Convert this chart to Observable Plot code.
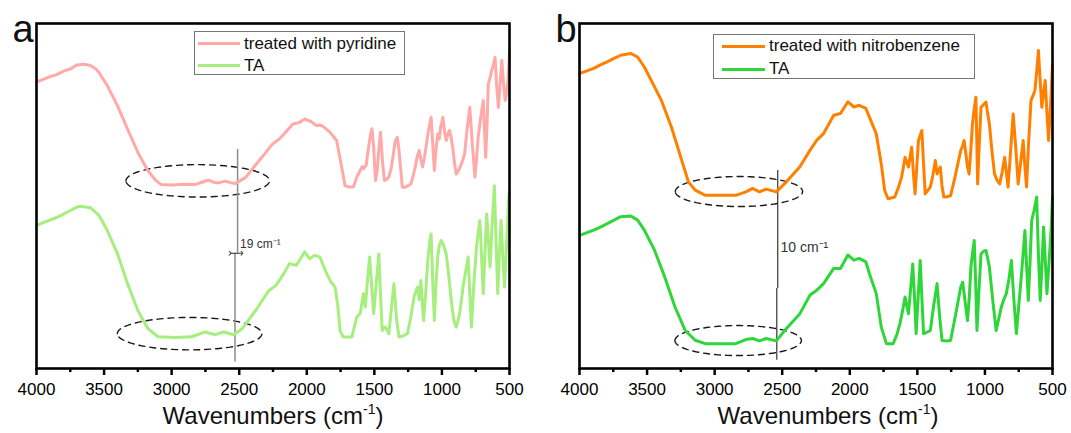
<!DOCTYPE html>
<html><head><meta charset="utf-8">
<script src="https://cdn.jsdelivr.net/npm/d3@7"></script>
<script src="https://cdn.jsdelivr.net/npm/@observablehq/plot@0.6"></script>
<style>
body{margin:0;background:#fff;font-family:"Liberation Sans",Arial,sans-serif;}
#wrap{position:relative;width:1071px;height:433px;background:#fff}
#wrap svg{position:absolute;left:0;top:0}
.legend{position:absolute;border:1px solid #777;background:#fff;font-size:17px;color:#111;box-sizing:border-box}
.row{position:absolute;left:0;height:20px;display:flex;align-items:center;white-space:nowrap}
.sw{height:3px}
.xtitle{position:absolute;font-size:24px;line-height:24px;white-space:nowrap;transform:translateX(-50%);color:#111}
.xtitle span{font-size:14px;position:relative;top:-10px}
</style></head>
<body><div id="wrap"></div>
<script>
// ---------- data (wavenumber cm^-1, transmittance a.u.) ----------
const pyridineTreated = [[4000,83.1],[3950,83.8],[3900,84.6],[3850,85.2],[3800,86.2],[3750,86.8],[3700,88.0],[3650,88.2],[3601,87.8],[3560,86.8],[3538,85.8],[3476,82.0],[3401,76.2],[3326,69.4],[3251,62.7],[3176,57.4],[3120,54.6],[3076,53.3],[3000,53.2],[2900,53.4],[2827,53.3],[2760,54.2],[2727,54.6],[2690,54.0],[2652,53.8],[2602,54.3],[2560,53.8],[2527,53.6],[2452,55.4],[2400,58.0],[2352,60.3],[2300,62.8],[2253,65.1],[2203,66.5],[2150,68.8],[2103,70.9],[2060,71.2],[2015,72.3],[1970,71.6],[1928,70.4],[1900,70.6],[1878,70.1],[1829,68.5],[1779,66.1],[1742,58.4],[1717,53.0],[1690,52.6],[1655,52.6],[1630,55.5],[1605,57.4],[1590,58.5],[1580,57.9],[1560,59.0],[1550,62.2],[1530,67.5],[1518,69.5],[1505,64],[1492,54.5],[1480,57],[1470,62],[1455,68.5],[1448,65],[1440,60],[1425,54.5],[1410,54.8],[1393,55.5],[1375,58],[1360,62],[1345,66],[1330,67.0],[1320,64],[1310,60],[1293,52.6],[1275,52.5],[1260,52.8],[1230,53.5],[1215,55.5],[1200,58],[1185,61],[1168,63.2],[1155,60.5],[1143,58.4],[1130,61],[1118,64.1],[1100,69],[1080,72.8],[1068,65],[1056,57.4],[1045,63],[1031,68.0],[1020,66.5],[1010,70],[1000,71.5],[993,72.8],[980,68.5],[968,66.1],[956,68],[944,69.0],[932,67],[920,64],[905,59],[894,56.4],[875,57.5],[856,59.3],[845,60.5],[832,62.2],[815,69],[794,75.7],[775,65],[756,55.5],[745,60],[732,67.0],[712,73],[694,77.7],[685,69],[676,61.2],[666,71],[657,82.5],[645,84],[632,86.4],[620,88],[607,90.2],[595,82],[582,75.7],[570,82],[557,89.3],[545,83],[532,77.7],[520,80],[507,85.5],[500,92]];
const taA = [[4000,41.5],[3940,42.4],[3875,43.4],[3820,44.3],[3775,45.3],[3700,46.8],[3675,47.0],[3601,46.6],[3538,44.4],[3476,40.0],[3401,33.3],[3326,24.6],[3251,16.9],[3176,11.6],[3101,9.2],[2976,9.0],[2852,9.2],[2752,10.6],[2677,9.8],[2615,10.6],[2540,9.8],[2477,11.6],[2377,16.9],[2278,22.7],[2228,24.1],[2170,27.5],[2128,30.4],[2078,29.9],[2015,33.8],[1978,31.8],[1941,32.8],[1903,32.3],[1853,27.5],[1820,25],[1791,23.6],[1770,18],[1754,11.0],[1730,9.1],[1667,9.1],[1630,14.9],[1605,15.9],[1590,19.5],[1580,21.7],[1567,17.8],[1550,26],[1535,32.3],[1520,24],[1505,15.9],[1485,25],[1467,33.2],[1455,22],[1442,11.0],[1430,11.8],[1418,12.0],[1393,10.1],[1375,17],[1355,24.6],[1335,14],[1317,9.1],[1285,9.5],[1255,10.1],[1230,15],[1205,21],[1181,23.6],[1168,20],[1156,25.5],[1136,13.9],[1120,22],[1105,31.3],[1090,37],[1080,39.0],[1068,25],[1056,13.9],[1045,24],[1031,32.3],[1020,35.5],[1006,37.1],[990,36],[968,33.2],[950,27],[931,19.7],[912,14],[894,12.0],[880,14],[869,15.9],[855,20],[844,23.6],[825,28],[806,32.3],[794,22],[782,12.0],[763,25],[744,35.2],[730,40],[719,42.9],[706,32],[694,21.7],[680,35],[669,44.8],[656,37],[644,29.4],[628,42],[612,53.0],[600,38],[587,21.7],[575,33],[562,42.9],[550,33],[537,23.6],[520,37],[507,48.7],[500,51.6]];
const nitrobenzeneTreated = [[4000,85.5],[3950,86.2],[3895,87.0],[3845,88.0],[3795,88.9],[3745,89.9],[3695,90.8],[3620,91.3],[3570,90.3],[3520,87.4],[3470,83.6],[3395,77.8],[3320,70.0],[3244,60.4],[3194,54.1],[3144,51.7],[3069,50.2],[2944,50.2],[2844,50.2],[2769,51.2],[2719,52.2],[2669,51.2],[2619,52.0],[2544,51.2],[2469,54.1],[2369,58.5],[2294,63.3],[2244,66.2],[2194,68.1],[2119,73.4],[2069,73.9],[2014,77.3],[1969,75.8],[1931,76.3],[1881,75.4],[1854,72.8],[1804,68.0],[1767,59.3],[1742,51.6],[1717,49.2],[1667,49.7],[1640,52.5],[1617,55.4],[1605,58],[1591,61.2],[1580,60],[1566,58.4],[1555,61],[1542,64.1],[1530,57],[1517,50.6],[1505,58],[1492,66.1],[1480,67.5],[1467,69.0],[1455,60],[1442,50.6],[1425,51.5],[1404,52.6],[1385,56],[1367,60.3],[1354,56.4],[1342,57.5],[1330,58.4],[1318,53],[1304,49.7],[1280,49.8],[1254,50.1],[1230,54],[1205,58.5],[1179,63.2],[1165,64.5],[1154,66.1],[1140,62],[1129,58.4],[1117,56.4],[1105,63],[1092,70.9],[1080,75],[1067,78.6],[1060,66],[1054,53.5],[1042,65],[1029,75.7],[1010,76.5],[992,77.2],[980,74],[967,70.9],[948,63],[929,56.4],[910,54.5],[891,53.5],[872,57],[854,61.2],[842,57],[829,52.6],[810,63],[791,73.8],[772,64],[754,53.5],[735,60],[717,66.1],[705,59],[692,52.6],[676,66],[659,77.7],[645,79],[630,80.6],[617,86],[604,92.2],[592,84],[579,75.7],[566,80],[554,83.5],[541,74],[529,66.1],[519,73],[509,80.6],[500,88]];
const taB = [[4000,38.6],[3950,39.3],[3895,40.1],[3845,41.0],[3795,42.0],[3745,43.0],[3695,44.0],[3620,44.2],[3570,43.0],[3520,40.1],[3445,34.3],[3370,26.6],[3294,17.9],[3219,11.1],[3144,8.2],[3069,7.2],[2944,7.2],[2844,7.2],[2769,8.4],[2719,8.7],[2669,8.0],[2619,8.7],[2544,8.0],[2469,11.6],[2369,15.9],[2294,21.3],[2244,22.7],[2194,24.6],[2119,29.0],[2069,29.0],[2014,32.9],[1969,31.4],[1931,31.9],[1881,30.9],[1854,27.4],[1804,21.7],[1767,12.0],[1729,7.2],[1679,7.2],[1650,10],[1629,13.0],[1604,17.8],[1591,20.7],[1566,15.9],[1550,23],[1534,30.3],[1520,20],[1509,10.1],[1495,20],[1479,31.3],[1466,20],[1454,10.1],[1430,10.5],[1404,11.0],[1380,18],[1354,24.6],[1335,15],[1317,8.1],[1285,8.0],[1254,8.1],[1215,16],[1179,23.6],[1165,25],[1154,21.7],[1129,13.9],[1115,21],[1104,29.4],[1090,34],[1079,37.1],[1068,24],[1059,11.0],[1045,22],[1029,33.2],[1010,34],[992,34.2],[980,32],[967,29.4],[940,19],[917,11.0],[900,14],[879,17.8],[860,20],[842,21.7],[822,26],[804,31.3],[786,20],[767,10.1],[748,19],[729,27.4],[716,34],[704,40.0],[692,30],[679,19.7],[665,32],[654,42.9],[635,46],[617,49.7],[605,34],[591,19.7],[578,30],[566,41.0],[553,31],[541,21.7],[525,31],[509,41.0],[500,49.6]];

const seriesNames = ["pyridine", "TA-a", "nitrobenzene", "TA-b"];
const seriesColors = ["#ffa9a9", "#a6ee7e", "#ff8000", "#2fd63a"];
const majorTicks = [4000,3500,3000,2500,2000,1500,1000,500];
const minorTicks = [3750,3250,2750,2250,1750,1250,750];

// annotation values
const ellipses = [{panel:"a", cx:2807, cy:54.4, rx:531, ry:4.7}, {panel:"a", cx:2867, cy:10.1, rx:535, ry:4.7},
                  {panel:"b", cx:2820, cy:51.3, rx:471, ry:4.35}, {panel:"b", cx:2826, cy:8.1, rx:468, ry:4.35}];
const shiftLinesA = [{panel:"a", x:2512, y1:63.5, y2:33.4}, {panel:"a", x:2531, y1:33.4, y2:1.9}];
const shiftLinesB = [{panel:"b", x:2533, y1:57.4, y2:23.2}, {panel:"b", x:2540, y1:23.2, y2:2.4}];
const arrowA = [{panel:"a", x1:2567, x2:2479, y:33.4}];
const shiftLabels = [{panel:"a", x:2494, y:35.9, t:"19 cm⁻¹", size:12}, {panel:"b", x:2513, y:35.1, t:"10 cm⁻¹", size:14}];
const panelLetters = [{panel:"a", t:"a"}, {panel:"b", t:"b"}];

const rows = [];
[[pyridineTreated,"a",0],[taA,"a",1],[nitrobenzeneTreated,"b",2],[taB,"b",3]].forEach(([arr,p,i])=>{
  arr.forEach(([w,t])=>rows.push({panel:p, series:seriesNames[i], w, t}));
});
const ellRows = [];
ellipses.forEach((e,i)=>{ for(let a=0;a<=360;a+=4){ const r=a*Math.PI/180; ellRows.push({panel:e.panel, id:i, x:e.cx+e.rx*Math.cos(r), y:e.cy+e.ry*Math.sin(r)}); } });

const chart = Plot.plot({
  width:1071, height:433, marginLeft:36, marginRight:18, marginTop:23, marginBottom:65,
  fx:{domain:["a","b"], paddingInner:0.1288, paddingOuter:0, axis:null, label:null},
  x:{domain:[4000,500]},
  y:{domain:[0,100], axis:null},
  color:{domain:seriesNames, range:seriesColors},
  style:{fontFamily:"Liberation Sans, Arial, sans-serif", fontSize:"17px", background:"white", overflow:"visible"},
  marks:[
    Plot.line(ellRows, {fx:"panel", x:"x", y:"y", z:"id", stroke:"#1a1a1a", strokeWidth:1.4, strokeDasharray:"6,5"}),
    Plot.ruleX(shiftLinesA, {fx:"panel", x:"x", y1:"y1", y2:"y2", stroke:"#8c8c8c", strokeWidth:1.5}),
    Plot.ruleX(shiftLinesB, {fx:"panel", x:"x", y1:"y1", y2:"y2", stroke:"#222", strokeWidth:1.1}),
    Plot.line(rows, {fx:"panel", x:"w", y:"t", z:"series", stroke:"series", strokeWidth:3, strokeLinejoin:"round"}),
    Plot.link(arrowA, {fx:"panel", x1:"x1", x2:"x2", y1:"y", y2:"y", stroke:"#333", strokeWidth:1, markerStart:"arrow", markerEnd:"arrow"}),
    Plot.text(shiftLabels, {fx:"panel", x:"x", y:"y", text:"t", fontSize:"size", textAnchor:"start", fill:"#333"}),
    Plot.frame({stroke:"black", strokeWidth:2.6}),
    Plot.axisX({ticks:majorTicks, tickSize:7, tickPadding:7, strokeWidth:2.5, label:null, tickFormat:d=>String(d)}),
    Plot.axisX({ticks:minorTicks, tickSize:4, strokeWidth:2.5, label:null, tickFormat:()=>""}),
    Plot.text(panelLetters, {fx:"panel", text:"t", frameAnchor:"top-left", dx:-24, dy:-8, lineAnchor:"top", textAnchor:"start", fontSize:38, fill:"#111"})
  ]
});
const wrap = document.getElementById("wrap");
wrap.appendChild(chart);

// legends
function legend(left, top, w, h, items){
  const d=document.createElement("div"); d.className="legend";
  Object.assign(d.style,{left:left+"px", top:top+"px", width:w+"px", height:h+"px"});
  items.forEach(r=>{
    const row=document.createElement("div"); row.className="row"; row.style.top=(r.y-10)+"px";
    const sw=document.createElement("div"); sw.className="sw";
    Object.assign(sw.style,{background:r.color, width:r.sw+"px", marginLeft:r.off+"px", marginRight:r.gap+"px"});
    const t=document.createElement("span"); t.textContent=r.text;
    row.appendChild(sw); row.appendChild(t); d.appendChild(row);
  });
  wrap.appendChild(d);
}
legend(194, 31, 211, 44, [
  {text:"treated with pyridine", color:seriesColors[0], y:11.6, sw:42, off:3, gap:4},
  {text:"TA", color:seriesColors[1], y:33.5, sw:42, off:3, gap:4}]);
legend(713, 34, 262, 45, [
  {text:"treated with nitrobenzene", color:seriesColors[2], y:11.3, sw:43, off:8, gap:4},
  {text:"TA", color:seriesColors[3], y:34, sw:43, off:8, gap:4}]);

// axis titles
[273, 828].forEach(cx=>{
  const t=document.createElement("div"); t.className="xtitle";
  t.style.left=cx+"px"; t.style.top="404px";
  t.innerHTML="Wavenumbers (cm<span>-1</span>)";
  wrap.appendChild(t);
});
</script></body></html>
